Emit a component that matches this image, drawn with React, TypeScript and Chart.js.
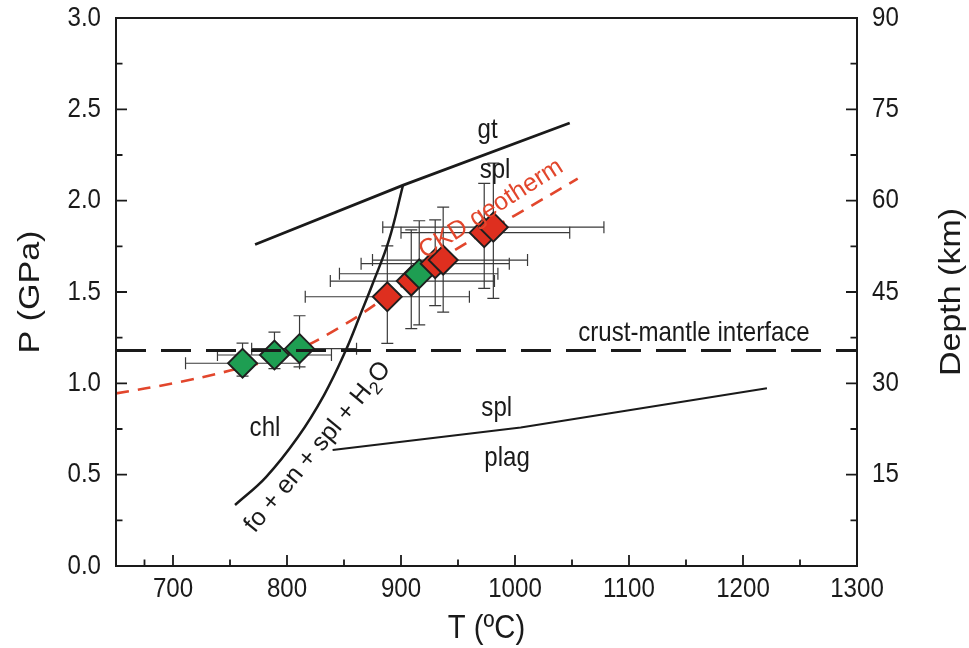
import React, { useEffect, useRef } from 'react';
import { Chart, registerables } from 'chart.js';

Chart.register(...registerables);

// ---------- data ----------
const T_TICKS = [700, 800, 900, 1000, 1100, 1200, 1300];
const P_TICKS = [0, 0.5, 1.0, 1.5, 2.0, 2.5, 3.0];
const DEPTH_TICKS = [15, 30, 45, 60, 75, 90];

// samples sorted by temperature (later ones drawn on top)
const SAMPLE_T = [761, 789, 811, 888, 909, 916, 930, 937, 973, 981];
const SAMPLE_P = [1.11, 1.155, 1.19, 1.474, 1.56, 1.6, 1.655, 1.675, 1.825, 1.855];
const SAMPLE_GROUP = ['green', 'green', 'green', 'red', 'red', 'green', 'red', 'red', 'red', 'red'];
const T_ERR_MINUS = [50, 50, 42, 72, 71, 70, 65, 62, 73, 97];
const T_ERR_PLUS = [50, 50, 50, 72, 73, 69, 65, 74, 75, 97];
const P_ERR_UP = [0.11, 0.125, 0.18, 0.278, 0.28, 0.29, 0.24, 0.29, 0.27, 0.35];
const P_ERR_DOWN = [0.07, 0.075, 0.1, 0.255, 0.26, 0.28, 0.23, 0.285, 0.305, 0.39];

const CRUST_MANTLE_P = 1.18;
const GEOTHERM_T = [650, 700, 750, 800, 850, 900, 950, 1000, 1055];
const GEOTHERM_P = [0.945, 1.0, 1.07, 1.16, 1.32, 1.53, 1.74, 1.92, 2.12];
const CHL_T = [754.4, 781.6, 809.6, 832.5, 850.9, 864.9, 875.4, 889.5, 901.8];
const CHL_P = [0.334, 0.487, 0.706, 0.936, 1.171, 1.385, 1.549, 1.785, 2.086];
const GT_T = [772, 902, 1048];
const GT_P = [1.76, 2.085, 2.425];
const PLAG_T = [840, 1005, 1100, 1221];
const PLAG_P = [0.635, 0.758, 0.853, 0.973];

// ---------- styles ----------
const FONT = "'Liberation Sans', Arial, Helvetica, sans-serif";
const GREEN = '#1e9e52';
const RED = '#de2f1f';
const GEO_RED = '#e2462c';
const INK = '#1a1a1a';
const SX = 0.86; // horizontal text compression seen in the reference

const LABELS = [
  { text: 'gt', T: 976, P: 2.387, color: INK },
  { text: 'spl', T: 982.5, P: 2.168, color: INK },
  { text: 'crust-mantle interface', T: 1157, P: 1.275, color: INK },
  { text: 'spl', T: 984, P: 0.865, color: INK },
  { text: 'plag', T: 993, P: 0.591, color: INK },
  { text: 'chl', T: 780.7, P: 0.755, color: INK },
];

const pts = (xs: number[], ys: number[]) => xs.map((x, i) => ({ x, y: ys[i] }));
const mids = (a: number[]) => a.slice(0, -1).map((v, i) => (v + a[i + 1]) / 2);

function drawText(ctx: any, text: string, x: number, y: number, size: number, o: any = {}) {
  ctx.save();
  ctx.translate(x, y);
  if (o.rot) ctx.rotate((o.rot * Math.PI) / 180);
  if (!o.plain) {
    if (o.rot) ctx.scale(1, SX); else ctx.scale(SX, 1);
  }
  ctx.font = `${size}px ${FONT}`;
  ctx.fillStyle = o.color || INK;
  ctx.textAlign = o.align || 'center';
  ctx.textBaseline = 'middle';
  ctx.fillText(text, 0, 0);
  ctx.restore();
}

const errorBars = {
  id: 'errorBars',
  beforeDatasetsDraw(chart: any) {
    const { ctx, scales } = chart;
    const x = scales.x, y = scales.y;
    const cap = 6;
    ctx.save();
    ctx.strokeStyle = '#3a3a3a';
    ctx.lineWidth = 1.2;
    SAMPLE_T.forEach((t, i) => {
      const p = SAMPLE_P[i];
      const cx = x.getPixelForValue(t), cy = y.getPixelForValue(p);
      const x0 = x.getPixelForValue(t - T_ERR_MINUS[i]);
      const x1 = x.getPixelForValue(t + T_ERR_PLUS[i]);
      const y0 = y.getPixelForValue(p + P_ERR_UP[i]);
      const y1 = y.getPixelForValue(p - P_ERR_DOWN[i]);
      ctx.beginPath();
      ctx.moveTo(x0, cy); ctx.lineTo(x1, cy);
      ctx.moveTo(x0, cy - cap); ctx.lineTo(x0, cy + cap);
      ctx.moveTo(x1, cy - cap); ctx.lineTo(x1, cy + cap);
      ctx.moveTo(cx, y0); ctx.lineTo(cx, y1);
      ctx.moveTo(cx - cap, y0); ctx.lineTo(cx + cap, y0);
      ctx.moveTo(cx - cap, y1); ctx.lineTo(cx + cap, y1);
      ctx.stroke();
    });
    ctx.restore();
  },
};

const decorations = {
  id: 'decorations',
  afterDraw(chart: any) {
    const { ctx, chartArea: a, scales } = chart;
    const x = scales.x, y = scales.y, y2 = scales.y2;
    ctx.save();
    // frame
    ctx.strokeStyle = INK;
    ctx.lineWidth = 2;
    ctx.strokeRect(a.left, a.top, a.right - a.left, a.bottom - a.top);
    // ticks (inward)
    const major = 11, minor = 6.5;
    ctx.lineWidth = 1.8;
    ctx.beginPath();
    T_TICKS.slice(0, -1).forEach((v) => { const px = x.getPixelForValue(v); ctx.moveTo(px, a.bottom); ctx.lineTo(px, a.bottom - major); });
    mids([650, ...T_TICKS]).forEach((v) => { const px = x.getPixelForValue(v); ctx.moveTo(px, a.bottom); ctx.lineTo(px, a.bottom - minor); });
    P_TICKS.slice(1, -1).forEach((v) => { const py = y.getPixelForValue(v); ctx.moveTo(a.left, py); ctx.lineTo(a.left + major, py); });
    mids(P_TICKS).forEach((v) => { const py = y.getPixelForValue(v); ctx.moveTo(a.left, py); ctx.lineTo(a.left + minor, py); });
    DEPTH_TICKS.slice(0, -1).forEach((v) => { const py = y2.getPixelForValue(v); ctx.moveTo(a.right, py); ctx.lineTo(a.right - major, py); });
    mids([0, ...DEPTH_TICKS]).forEach((v) => { const py = y2.getPixelForValue(v); ctx.moveTo(a.right, py); ctx.lineTo(a.right - minor, py); });
    ctx.stroke();

    // tick labels
    const TS = 28;
    T_TICKS.forEach((v) => drawText(ctx, String(v), x.getPixelForValue(v), 589, TS));
    P_TICKS.forEach((v) => drawText(ctx, v.toFixed(1), 101, y.getPixelForValue(v), TS, { align: 'right' }));
    DEPTH_TICKS.forEach((v) => drawText(ctx, String(v), 872, y2.getPixelForValue(v), TS, { align: 'left' }));

    // annotations
    LABELS.forEach((l) => drawText(ctx, l.text, x.getPixelForValue(l.T), y.getPixelForValue(l.P), 28, { color: l.color }));
    drawText(ctx, 'CKD geotherm', x.getPixelForValue(979), y.getPixelForValue(1.954), 25, { rot: -32.5, color: GEO_RED, plain: true });

    // reaction label with subscript
    ctx.save();
    ctx.translate(x.getPixelForValue(827), y.getPixelForValue(0.651));
    ctx.rotate((-50.3 * Math.PI) / 180);
    ctx.fillStyle = INK;
    ctx.textAlign = 'left';
    ctx.textBaseline = 'middle';
    const main = 'fo + en + spl + H', sub = '2', end = 'O';
    ctx.font = `25px ${FONT}`;
    const w1 = ctx.measureText(main).width, w3 = ctx.measureText(end).width;
    ctx.font = `18px ${FONT}`;
    const w2 = ctx.measureText(sub).width;
    let sx = -(w1 + w2 + w3) / 2;
    ctx.font = `25px ${FONT}`;
    ctx.fillText(main, sx, 0);
    sx += w1;
    ctx.font = `18px ${FONT}`;
    ctx.fillText(sub, sx, 8);
    sx += w2;
    ctx.font = `25px ${FONT}`;
    ctx.fillText(end, sx, 0);
    ctx.restore();

    // axis titles
    const midY = (a.top + a.bottom) / 2;
    drawText(ctx, 'P (GPa)', 31, midY, 34, { rot: -90 });
    drawText(ctx, 'Depth (km)', 952, midY, 34, { rot: -90 });
    drawText(ctx, 'T (ºC)', (a.left + a.right) / 2, 629, 34);
    ctx.restore();
  },
};

export default function App() {
  const ref = useRef<HTMLCanvasElement>(null);
  useEffect(() => {
    const chart = new Chart(ref.current as HTMLCanvasElement, {
      type: 'scatter',
      data: {
        datasets: [
          {
            label: 'crust-mantle interface',
            data: [{ x: 650, y: CRUST_MANTLE_P }, { x: 1300, y: CRUST_MANTLE_P }],
            showLine: true, borderColor: INK, borderWidth: 3, borderDash: [30, 15],
            pointRadius: 0, order: 0,
          },
          {
            label: 'samples',
            data: pts(SAMPLE_T, SAMPLE_P),
            pointStyle: 'rectRot', pointRadius: 14.5, pointHoverRadius: 14.5,
            backgroundColor: SAMPLE_GROUP.map((g) => (g === 'green' ? GREEN : RED)),
            borderColor: '#1f1f1f', borderWidth: 1.9, order: 1,
          },
          {
            label: 'CKD geotherm',
            data: pts(GEOTHERM_T, GEOTHERM_P),
            showLine: true, borderColor: GEO_RED, borderWidth: 2.6, borderDash: [13, 9],
            tension: 0.4, pointRadius: 0, order: 2,
          },
          {
            label: 'chl',
            data: pts(CHL_T, CHL_P),
            showLine: true, borderColor: INK, borderWidth: 2.5,
            tension: 0.4, pointRadius: 0, order: 3,
          },
          {
            label: 'gt-spl',
            data: pts(GT_T, GT_P),
            showLine: true, borderColor: INK, borderWidth: 2.8, pointRadius: 0, order: 3,
          },
          {
            label: 'spl-plag',
            data: pts(PLAG_T, PLAG_P),
            showLine: true, borderColor: INK, borderWidth: 2, pointRadius: 0, order: 3,
          },
        ] as any,
      },
      options: {
        animation: false,
        responsive: false,
        devicePixelRatio: 1,
        events: [],
        layout: { padding: { top: 18, left: 0, right: 0, bottom: 0 } },
        plugins: { legend: { display: false }, tooltip: { enabled: false } },
        scales: {
          x: {
            type: 'linear', position: 'bottom', min: 650, max: 1300,
            afterBuildTicks: (s: any) => { s.ticks = T_TICKS.map((v) => ({ value: v })); },
            afterFit: (s: any) => { s.height = 82; },
            grid: { display: false }, border: { display: false },
            ticks: { display: false },
          },
          y: {
            type: 'linear', position: 'left', min: 0, max: 3,
            afterBuildTicks: (s: any) => { s.ticks = P_TICKS.map((v) => ({ value: v })); },
            afterFit: (s: any) => { s.width = 116; },
            grid: { display: false }, border: { display: false },
            ticks: { display: false },
          },
          y2: {
            type: 'linear', position: 'right', min: 0, max: 90,
            afterBuildTicks: (s: any) => { s.ticks = DEPTH_TICKS.map((v) => ({ value: v })); },
            afterFit: (s: any) => { s.width = 112; },
            grid: { display: false }, border: { display: false },
            ticks: { display: false },
          },
        },
      } as any,
      plugins: [errorBars, decorations],
    });
    return () => chart.destroy();
  }, []);
  return (
    <canvas
      ref={ref}
      width={969}
      height={648}
      style={{ position: 'fixed', left: 0, top: 0, width: 969, height: 648, display: 'block', background: '#fff' }}
    />
  );
}
